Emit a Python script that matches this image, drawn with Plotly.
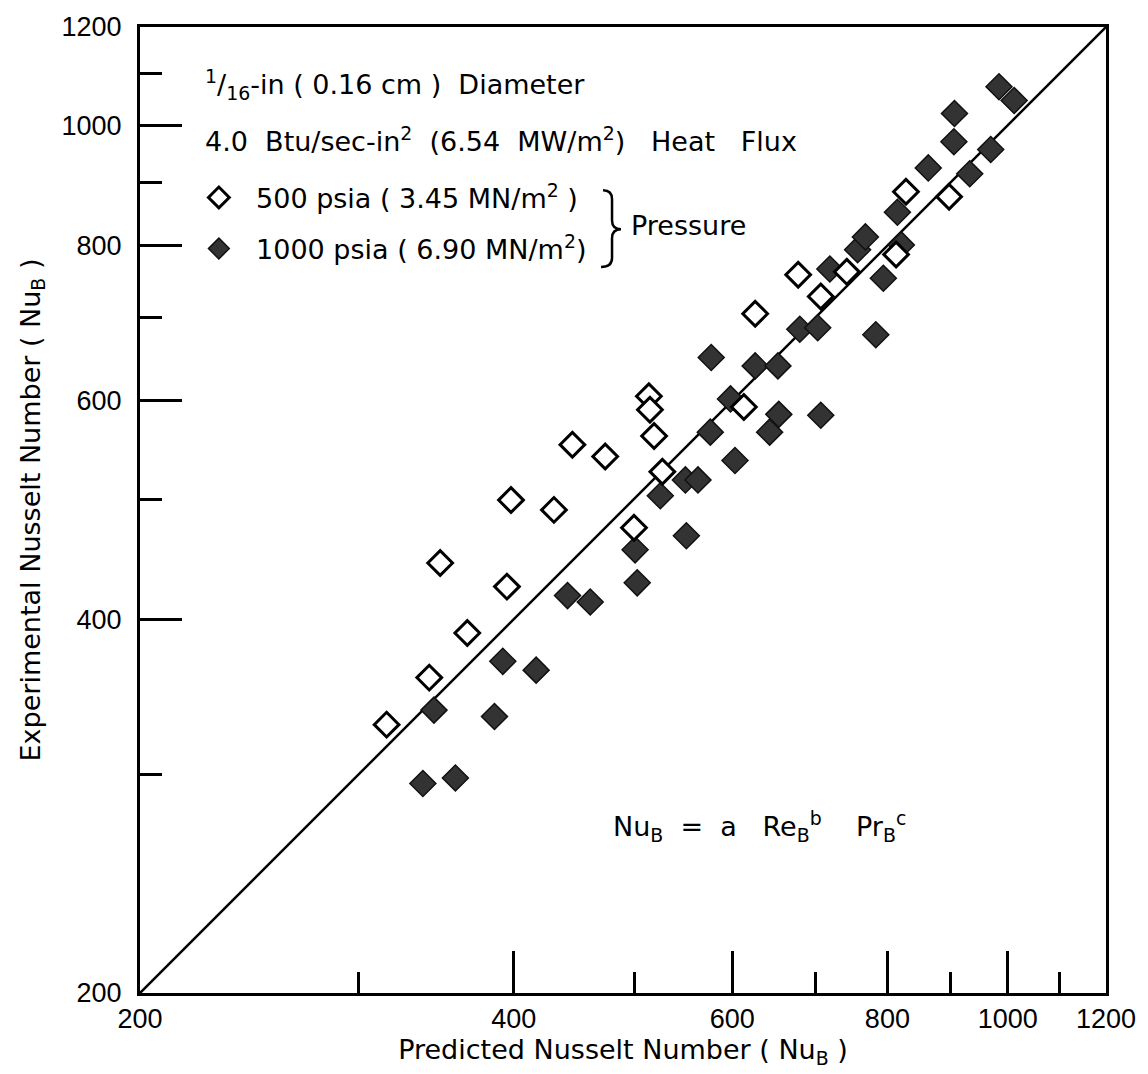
import math
import plotly.graph_objects as go

# ---------------- data ----------------
x_ticks = [200, 400, 600, 800, 1000, 1200]
y_ticks = [200, 400, 600, 800, 1000, 1200]
x_minor = [300, 500, 700, 900, 1100]
y_minor = [300, 500, 700, 900, 1100]

# line of perfect agreement
line_x = [200, 1200]
line_y = [200, 1200]

# 500 psia (open diamonds): predicted, experimental
open_x = [316, 342, 367, 349, 395, 398, 431, 446, 474, 500, 514, 515, 519, 527,
          613, 626, 678, 707, 742, 813, 828, 897]
open_y = [329, 359, 390, 444, 425, 499, 490, 553, 541, 474, 605, 590, 562, 526,
          593, 705, 758, 728, 762, 787, 884, 876]

# 1000 psia (filled diamonds): predicted, experimental
filled_x = [338, 359, 345, 386, 392, 417, 442, 461, 501, 503, 525, 550, 563, 551,
            576, 603, 577, 598, 626, 653, 643, 654, 707, 680, 703, 783, 719, 794,
            757, 768, 821, 815, 863, 932, 905, 906, 969, 984, 1012]
filled_y = [295, 298, 338, 334, 370, 364, 418, 413, 455, 428, 503, 518, 518, 467,
            566, 537, 650, 602, 640, 640, 566, 585, 584, 685, 687, 678, 766, 753,
            794, 813, 801, 851, 924, 914, 970, 1022, 956, 1074, 1047]

NB = "\u00a0"
open_name = NB * 2 + "500 psia ( 3.45 MN/m<sup>2</sup> )"
filled_name = NB * 2 + "1000 psia ( 6.90 MN/m<sup>2</sup>)"

# ---------------- layout geometry ----------------
W, H = 1148, 1074
L, R, T, B = 140, 40, 23, 81
PW = W - L - R
PH = H - T - B


def px(x):
    return (x - L) / PW


def py(y):
    return (H - B - y) / PH


TXT = "DejaVu Sans, Noto Sans, sans-serif"
NUM = "Liberation Sans, Arial, sans-serif"

fig = go.Figure()
fig.add_trace(go.Scatter(x=line_x, y=line_y, mode="lines",
                         line=dict(color="black", width=2.5),
                         showlegend=False, hoverinfo="skip"))
fig.add_trace(go.Scatter(x=filled_x, y=filled_y, mode="markers", name=filled_name,
                         legendgroup="b", legendrank=2,
                         marker=dict(symbol="diamond", size=20, color="#333333",
                                     line=dict(color="#111111", width=1.5))))
fig.add_trace(go.Scatter(x=open_x, y=open_y, mode="markers", name=open_name,
                         legendgroup="a", legendrank=1,
                         marker=dict(symbol="diamond", size=19, color="white",
                                     line=dict(color="black", width=3))))

axis_common = dict(
    type="log",
    range=[math.log10(200), math.log10(1200)],
    tickmode="array",
    ticks="inside", ticklen=42, tickwidth=2.5, tickcolor="black",
    showline=True, linewidth=3, linecolor="black", mirror=True,
    showgrid=False, zeroline=False,
    tickfont=dict(family=NUM, size=27, color="black"),
)

fig.update_layout(
    width=W, height=H,
    margin=dict(l=L, r=R, t=T, b=B),
    paper_bgcolor="white", plot_bgcolor="white",
    xaxis=dict(axis_common, tickvals=x_ticks, ticktext=[str(v) for v in x_ticks],
               ticklabelstandoff=0,
               minor=dict(tickmode="array", tickvals=x_minor, ticks="inside",
                          ticklen=21, tickwidth=2.5, tickcolor="black", showgrid=False),
               title=dict(text="Predicted Nusselt Number ( Nu<sub>B</sub> )",
                          font=dict(family=TXT, size=27, color="black"), standoff=6)),
    yaxis=dict(axis_common, tickvals=y_ticks, ticktext=[str(v) for v in y_ticks],
               ticklabelstandoff=10,
               minor=dict(tickmode="array", tickvals=y_minor, ticks="inside",
                          ticklen=22, tickwidth=2.5, tickcolor="black", showgrid=False),
               title=dict(text="Experimental Nusselt Number ( Nu<sub>B</sub> )",
                          font=dict(family=TXT, size=27, color="black"), standoff=14)),
    showlegend=True,
    legend=dict(x=px(199), y=py(170), xanchor="left", yanchor="top",
                bgcolor="rgba(0,0,0,0)", borderwidth=0,
                font=dict(family=TXT, size=27, color="black"),
                tracegroupgap=13, itemwidth=30),
)

annotations = [
    dict(text="<sup>1</sup>/<sub>16</sub>-in ( 0.16 cm )" + NB * 2 + "Diameter",
         x=px(203), y=py(81)),
    dict(text="4.0" + NB + " Btu/sec-in<sup>2</sup>" + NB * 2 + "(6.54" + NB + " MW/m<sup>2</sup>)"
              + NB * 2 + " Heat" + NB * 2 + " Flux",
         x=px(203), y=py(136)),
    dict(text="Pressure", x=px(630), y=py(222)),
    dict(text="Nu<sub>B</sub>" + NB + " =" + NB + " a" + NB * 2 + " Re<sub>B</sub><sup>b</sup>"
              + NB * 4 + "Pr<sub>B</sub><sup>c</sup>",
         x=px(612), y=py(826)),
]
for a in annotations:
    a.update(xref="paper", yref="paper", xanchor="left", yanchor="middle",
             showarrow=False, font=dict(family=TXT, size=27, color="black"))
fig.update_layout(annotations=annotations)

# curly brace grouping the two pressure entries
pts = [("M", [(604, 187)]),
       ("Q", [(613, 187), (613, 196)]),
       ("L", [(613, 217)]),
       ("Q", [(613, 226), (622, 226)]),
       ("Q", [(613, 226), (613, 235)]),
       ("L", [(613, 255)]),
       ("Q", [(613, 264), (602, 264)])]
path = ""
for cmd, coords in pts:
    path += cmd + " " + " ".join(f"{px(x):.5f},{py(y):.5f}" for x, y in coords) + " "
fig.add_shape(type="path", path=path.strip(), xref="paper", yref="paper",
              line=dict(color="black", width=2.5))

fig.write_html("out.html")
